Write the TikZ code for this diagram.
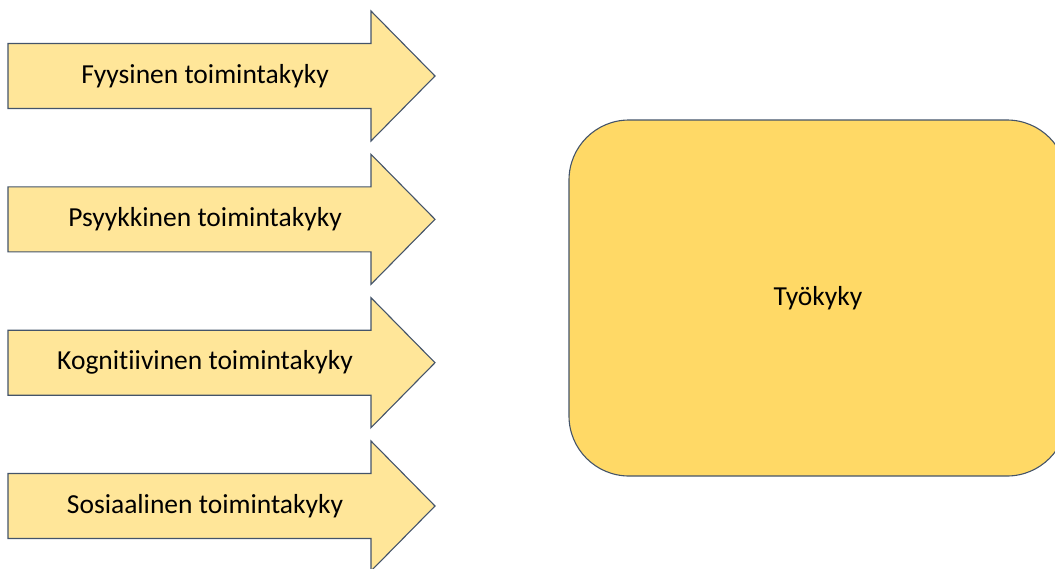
\documentclass[tikz,border=0pt]{standalone}
\usepackage{fontspec}
\setmainfont{Carlito}[Ligatures={NoCommon}]
\definecolor{edge}{HTML}{44546A}
\definecolor{arrowfill}{HTML}{FFE699}
\definecolor{boxfill}{HTML}{FFD966}
\begin{document}
\begin{tikzpicture}[x=1pt,y=-1pt,
  arrowshape/.style={draw=edge,fill=arrowfill,line width=1.1pt,line join=miter},
  boxshape/.style={draw=edge,fill=boxfill,line width=1.1pt,rounded corners=60pt},
  label/.style={font=\fontsize{27.5}{32}\selectfont,text=black,inner sep=0pt}]
  \useasboundingbox (0,0) rectangle (1055,568);
  % four block arrows, centre lines 143.3pt apart
  \foreach \cy/\name/\txt in {76/a1/Fyysinen toimintakyky,
                             219.3/a2/Psyykkinen toimintakyky,
                             362.7/a3/Kognitiivinen toimintakyky,
                             506/a4/Sosiaalinen toimintakyky}{
    \draw[arrowshape] (8,\cy-32.5) -- (371,\cy-32.5) -- (371,\cy-65) -- (435,\cy)
      -- (371,\cy+65) -- (371,\cy+32.5) -- (8,\cy+32.5) -- cycle;
    \node[label] (\name) at (205,\cy) {\txt};
  }
  % target box, partly running past the right edge
  \draw[boxshape] (569,120) rectangle (1067,476);
  \node[label] (work) at (818,298) {Työkyky};
\end{tikzpicture}
\end{document}
